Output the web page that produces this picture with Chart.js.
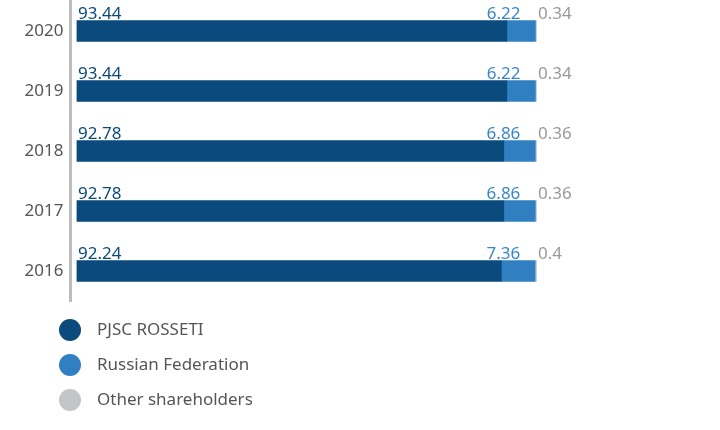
<!DOCTYPE html>
<html>
<head>
<meta charset="utf-8">
<script src="https://cdn.jsdelivr.net/npm/chart.js@4"></script>
<style>
  html, body { margin: 0; padding: 0; background: #fff; }
  #box { width: 720px; height: 430px; position: relative; }
</style>
</head>
<body>
<div id="box"><canvas id="grafico"></canvas></div>
<script>
// dados
const anos = ['2020', '2019', '2018', '2017', '2016'];
const rosseti = [93.44, 93.44, 92.78, 92.78, 92.24];
const federacao = [6.22, 6.22, 6.86, 6.86, 7.36];
const outros = [0.34, 0.34, 0.36, 0.36, 0.4];
const nomesSeries = ['PJSC ROSSETI', 'Russian Federation', 'Other shareholders'];

const coresBarras = ['#0a4a7c', '#2f7fc1', '#c9d1d9'];
const coresLegenda = ['#0a4a7c', '#2f7fc1', '#c3c5c7'];
const coresRotulos = ['#0a4a7c', '#3a86c8', '#9a9a9a'];
const fonte = '"Noto Sans", "Open Sans", sans-serif';

// rótulos de valor acima das barras
const pluginRotulos = {
    id: 'rotulos',
    afterDatasetsDraw(chart) {
        const ctx = chart.ctx;
        ctx.save();
        ctx.font = '17px ' + fonte;
        ctx.textBaseline = 'alphabetic';
        chart.data.datasets.forEach((ds, i) => {
            const meta = chart.getDatasetMeta(i);
            meta.data.forEach((bar, j) => {
                const topo = bar.y - bar.height / 2 - 2;
                const texto = String(ds.data[j]);
                ctx.fillStyle = coresRotulos[i];
                if (i === 0) {
                    ctx.textAlign = 'left';
                    ctx.fillText(texto, bar.base + 1, topo);
                } else if (i === 1) {
                    ctx.textAlign = 'right';
                    ctx.fillText(texto, bar.x - 15, topo);
                } else {
                    ctx.textAlign = 'left';
                    ctx.fillText(texto, bar.x + 1, topo);
                }
            });
        });
        ctx.restore();
    }
};

// legenda vertical com círculos
const pluginLegenda = {
    id: 'legendaVertical',
    afterDraw(chart) {
        const ctx = chart.ctx;
        ctx.save();
        ctx.font = '17px ' + fonte;
        ctx.textBaseline = 'middle';
        ctx.textAlign = 'left';
        chart.data.datasets.forEach((ds, i) => {
            const y = 330 + i * 35;
            ctx.beginPath();
            ctx.arc(70, y, 11, 0, Math.PI * 2);
            ctx.fillStyle = coresLegenda[i];
            ctx.fill();
            ctx.fillStyle = '#555555';
            ctx.fillText(ds.label, 97, y);
        });
        ctx.restore();
    }
};

const ctx = document.getElementById('grafico').getContext('2d');
new Chart(ctx, {
    type: 'bar',
    data: {
        labels: anos,
        datasets: [
            { label: nomesSeries[0], data: rosseti, backgroundColor: coresBarras[0] },
            { label: nomesSeries[1], data: federacao, backgroundColor: coresBarras[1] },
            { label: nomesSeries[2], data: outros, backgroundColor: coresBarras[2] }
        ]
    },
    options: {
        indexAxis: 'y',
        responsive: true,
        maintainAspectRatio: false,
        animation: false,
        datasets: { bar: { barThickness: 21 } },
        layout: { padding: { top: 1, right: 183, bottom: 129, left: 0 } },
        plugins: { legend: { display: false }, tooltip: { enabled: false } },
        scales: {
            x: { stacked: true, min: -1.4, max: 100, display: false },
            y: {
                stacked: true,
                afterFit(scale) {
                    scale.width = 70.5;
                    scale.paddingTop = 0;
                    scale.paddingBottom = 0;
                },
                grid: { display: false, drawTicks: false },
                border: { display: true, color: '#bdbdbd', width: 3 },
                ticks: { color: '#555555', font: { family: fonte, size: 17 }, padding: 7 }
            }
        }
    },
    plugins: [pluginRotulos, pluginLegenda]
});
</script>
</body>
</html>
